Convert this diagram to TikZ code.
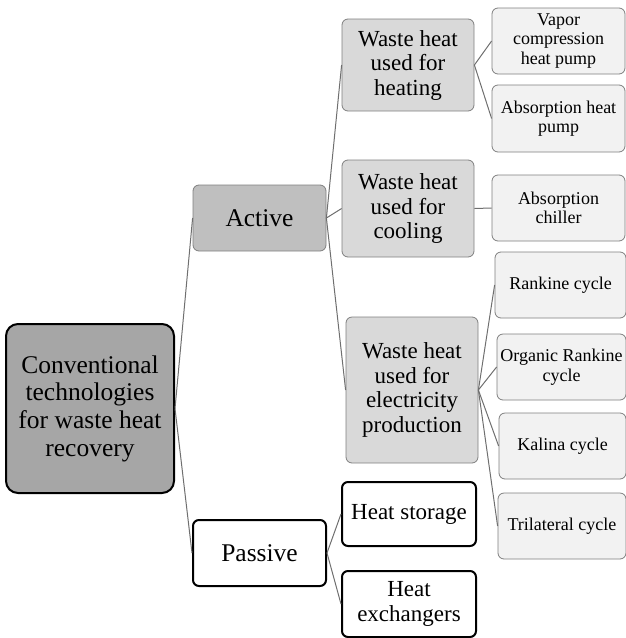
\documentclass[tikz,border=0pt]{standalone}
\usepackage{fontspec}
\setmainfont{Liberation Serif}
\definecolor{rootfill}{HTML}{A6A6A6}
\definecolor{l1fill}{HTML}{BFBFBF}
\definecolor{l2fill}{HTML}{D9D9D9}
\definecolor{leaffill}{HTML}{F2F2F2}
\definecolor{edgegray}{HTML}{7F7F7F}
\definecolor{conngray}{HTML}{6F6F6F}
\begin{document}
\begin{tikzpicture}[x=1pt,y=-1pt,
  base/.style={align=center, inner sep=0pt, rounded corners=6pt},
  rootbox/.style={base, rounded corners=12pt, fill=rootfill, draw=black, line width=2pt,
    minimum width=168pt, minimum height=169pt, font=\fontsize{25.5}{27.7}\selectfont},
  activebox/.style={base, fill=l1fill, draw=edgegray, line width=0.8pt,
    minimum width=133pt, minimum height=66pt, font=\fontsize{25.5}{27.7}\selectfont},
  passivebox/.style={base, fill=white, draw=black, line width=2pt,
    minimum width=133pt, minimum height=66pt, font=\fontsize{25.5}{27.7}\selectfont},
  midbox/.style={base, fill=l2fill, draw=edgegray, line width=0.8pt,
    minimum width=132pt, font=\fontsize{23}{24.5}\selectfont},
  passleaf/.style={base, fill=white, draw=black, line width=2pt,
    minimum width=134pt, font=\fontsize{23}{24.5}\selectfont},
  leafbox/.style={base, fill=leaffill, draw=edgegray, line width=0.8pt,
    minimum height=66pt, font=\fontsize{18}{19.5}\selectfont},
  conn/.style={draw=conngray, line width=1pt}]
\useasboundingbox (0,0) rectangle (626,638);

\node[rootbox] (root) at (90,408.5) {Conventional\\technologies\\for waste heat\\recovery};
\node[activebox] (active) at (259.5,218) {Active};
\node[passivebox] (passive) at (259.5,553) {Passive};

\node[midbox, minimum height=92pt] (heat) at (408,65) {Waste heat\\used for\\heating};
\node[midbox, minimum height=97pt] (cool) at (408,208.5) {Waste heat\\used for\\cooling};
\node[midbox, minimum height=146pt] (elec) at (412,390) {Waste heat\\used for\\electricity\\production};

\node[passleaf, minimum height=64pt] (storage) at (409,514) {Heat storage};
\node[passleaf, minimum height=66pt] (exch) at (409,604) {Heat\\exchangers};

\node[leafbox, minimum width=133pt] (vapor) at (558.5,41) {Vapor\\compression\\heat pump};
\node[leafbox, minimum width=133pt, minimum height=67pt] (ahp) at (558.5,118.5) {Absorption heat\\pump};
\node[leafbox, minimum width=133pt] (chiller) at (558.5,208) {Absorption\\chiller};
\node[leafbox, minimum width=131pt] (rankine) at (560.5,285) {Rankine cycle};
\node[leafbox, minimum width=129pt] (orc) at (561.5,367) {Organic Rankine\\cycle};
\node[leafbox, minimum width=127pt] (kalina) at (562.5,446) {Kalina cycle};
\node[leafbox, minimum width=128pt] (tri) at (562,526) {Trilateral cycle};

\draw[conn] (root.east) -- (active.west);
\draw[conn] (root.east) -- (passive.west);
\draw[conn] (active.east) -- (heat.west);
\draw[conn] (active.east) -- (cool.west);
\draw[conn] (active.east) -- (elec.west);
\draw[conn] (passive.east) -- (storage.west);
\draw[conn] (passive.east) -- (exch.west);
\draw[conn] (heat.east) -- (vapor.west);
\draw[conn] (heat.east) -- (ahp.west);
\draw[conn] (cool.east) -- (chiller.west);
\draw[conn] (elec.east) -- (rankine.west);
\draw[conn] (elec.east) -- (orc.west);
\draw[conn] (elec.east) -- (kalina.west);
\draw[conn] (elec.east) -- (tri.west);
\end{tikzpicture}
\end{document}
